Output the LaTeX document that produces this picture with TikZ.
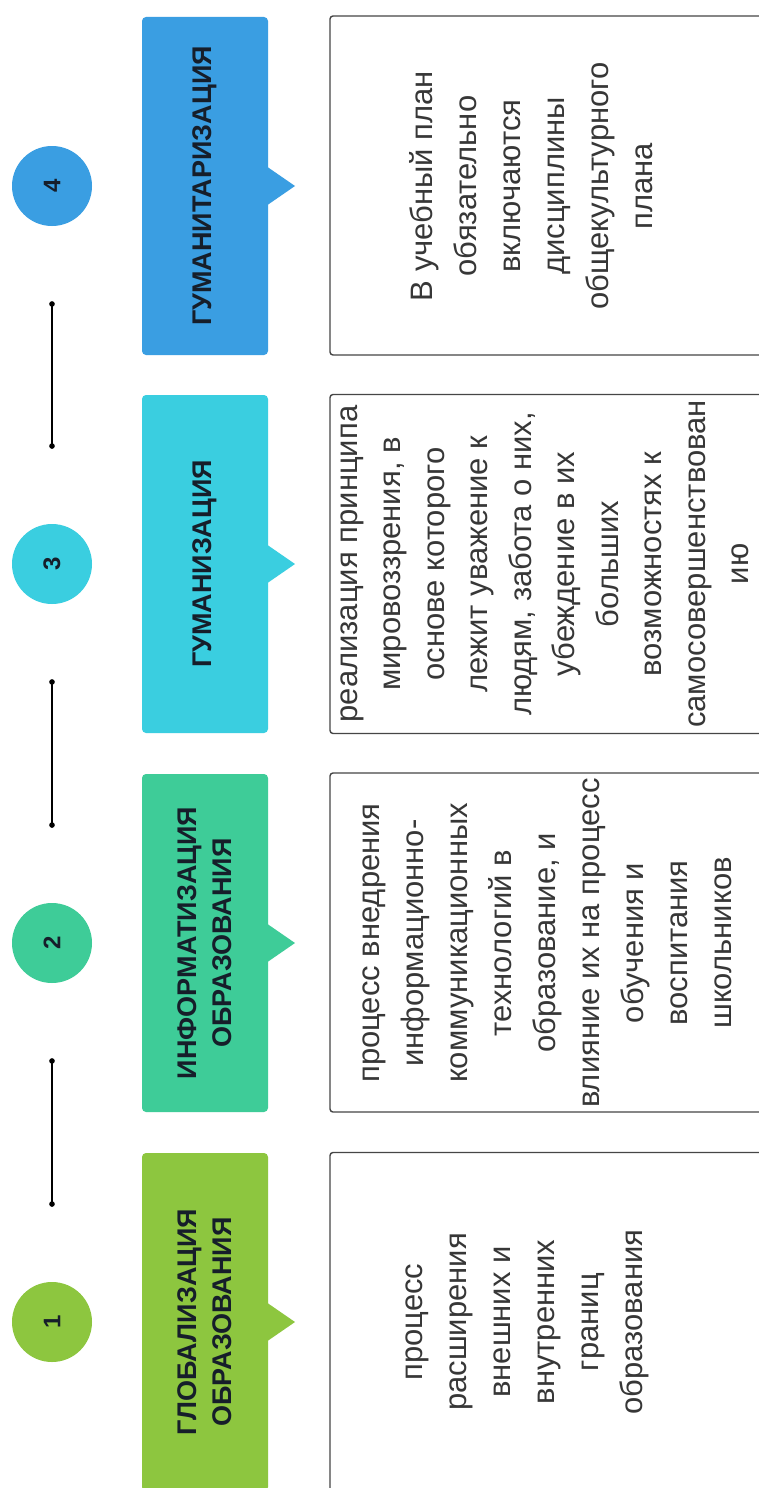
\documentclass[tikz,border=0pt]{standalone}
\usepackage{fontspec}
\setmainfont{Liberation Sans}
\usetikzlibrary{arrows.meta}
\definecolor{cA}{RGB}{141,198,63}
\definecolor{cB}{RGB}{62,204,152}
\definecolor{cC}{RGB}{58,206,224}
\definecolor{cD}{RGB}{58,158,226}
\definecolor{headtxt}{RGB}{22,30,42}
\definecolor{bodytxt}{RGB}{55,55,55}
\definecolor{framec}{RGB}{70,70,70}
\begin{document}
\begin{tikzpicture}[x=1pt,y=-1pt,
  numc/.style={circle,minimum size=80pt,inner sep=0pt,rotate=90,
    font=\fontsize{24}{24}\selectfont\bfseries,text=headtxt},
  headbox/.style={rectangle,rounded corners=4pt,minimum width=338pt,minimum height=126pt,
    inner sep=0pt,rotate=90,align=center,text=headtxt,
    font=\fontsize{27}{35}\selectfont\bfseries},
  whitebox/.style={rectangle,draw=framec,line width=1.4pt,rounded corners=3pt,fill=white,
    minimum width=339pt,minimum height=440pt,inner sep=0pt,rotate=90},
  bodytext/.style={rotate=90,align=center,text=bodytxt,inner sep=0pt,
    font=\fontsize{31}{44}\selectfont},
  link/.style={line width=1.3pt,{Circle[length=5.5pt]}-{Circle[length=5.5pt]},
    shorten <=75pt,shorten >=75pt}
]
\clip (0,0) rectangle (759,1488);
\fill[white] (0,0) rectangle (759,1488);

% number circles
\node[numc,fill=cA] (c1) at (52,1322) {1};
\node[numc,fill=cB] (c2) at (52,943) {2};
\node[numc,fill=cC] (c3) at (52,564) {3};
\node[numc,fill=cD] (c4) at (52,186) {4};

% connectors
\draw[link] (c2) -- (c1);
\draw[link] (c3) -- (c2);
\draw[link] (c4) -- (c3);

% heading boxes with pointers
\fill[cA] (266,1302) -- (295,1322) -- (266,1342) -- cycle;
\node[headbox,fill=cA] (h1) at (205,1322) {ГЛОБАЛИЗАЦИЯ\\ОБРАЗОВАНИЯ};
\fill[cB] (266,923) -- (295,943) -- (266,963) -- cycle;
\node[headbox,fill=cB] (h2) at (205,943) {ИНФОРМАТИЗАЦИЯ\\ОБРАЗОВАНИЯ};
\fill[cC] (266,544) -- (295,564) -- (266,584) -- cycle;
\node[headbox,fill=cC] (h3) at (205,564) {ГУМАНИЗАЦИЯ};
\fill[cD] (266,166) -- (295,186) -- (266,206) -- cycle;
\node[headbox,fill=cD] (h4) at (205,186) {ГУМАНИТАРИЗАЦИЯ};

% white description boxes
\node[whitebox] (b1) at (550,1322) {};
\node[whitebox] (b2) at (550,942.5) {};
\node[whitebox] (b3) at (550,564) {};
\node[whitebox] (b4) at (550,185.5) {};

\node[bodytext] (t1) at (527,1322) {процесс\\расширения\\внешних и\\внутренних\\границ\\образования};
\node[bodytext] (t2) at (547,943) {процесс внедрения\\информационно-\\коммуникационных\\технологий в\\образование, и\\влияние их на процесс\\обучения и\\воспитания\\школьников};
\node[bodytext,font=\fontsize{31}{43.5}\selectfont] (t3) at (545,564) {реализация принципа\\мировоззрения, в\\основе которого\\лежит уважение к\\людям, забота о них,\\убеждение в их\\больших\\возможностях к\\самосовершенствован\\ию};
\node[bodytext] (t4) at (531,186) {В учебный план\\обязательно\\включаются\\дисциплины\\общекультурного\\плана};
\end{tikzpicture}
\end{document}
